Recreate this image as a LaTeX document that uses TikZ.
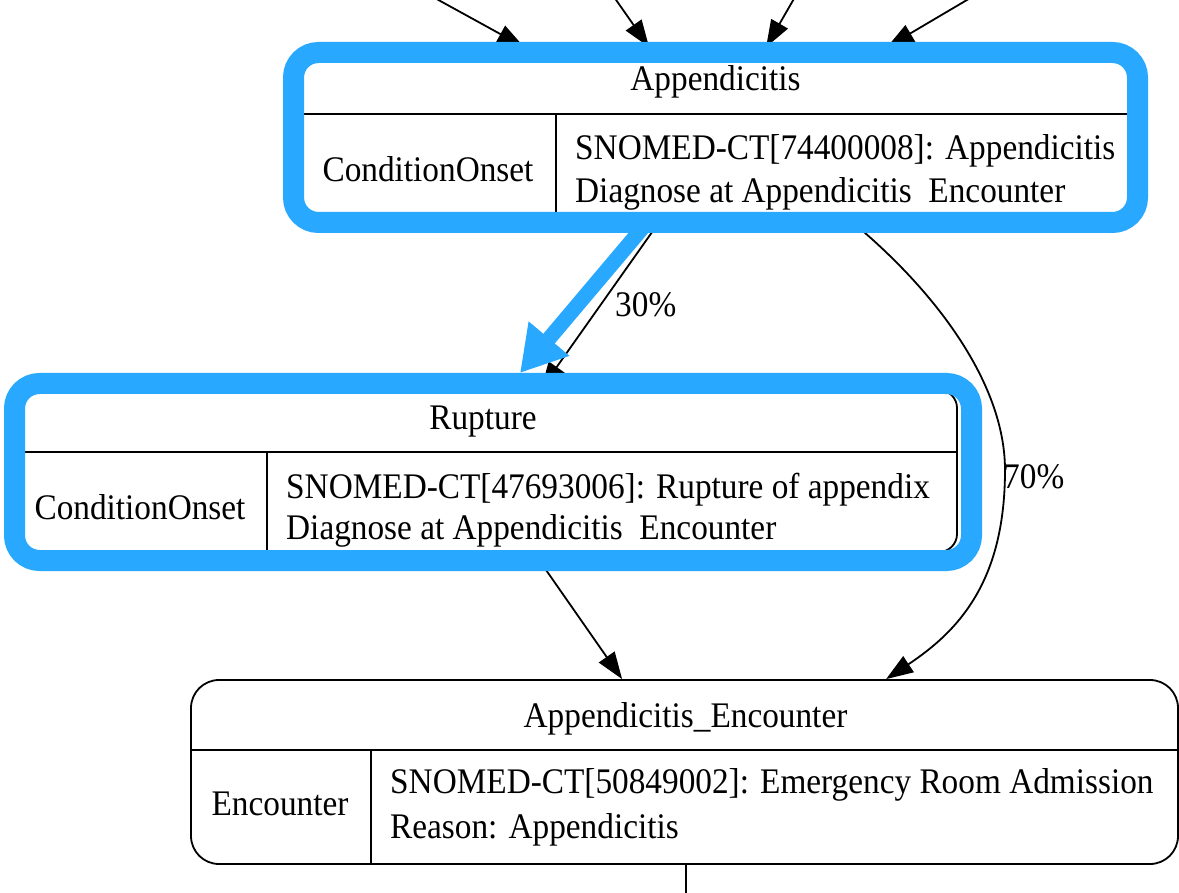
\documentclass[tikz,border=0pt]{standalone}
\usepackage{fontspec}
\setmainfont{Liberation Serif}[FakeStretch=0.925]
\usetikzlibrary{arrows.meta,calc}
\definecolor{hlblue}{RGB}{41,168,255}
\begin{document}
\begin{tikzpicture}[x=1pt,y=-1pt,
  rec/.style={draw=black, line width=1.8pt, rounded corners=18pt, inner sep=0pt},
  encrec/.style={draw=black, line width=1.8pt, rounded corners=28pt, inner sep=0pt},
  sep/.style={draw=black, line width=1.8pt},
  txt/.style={inner sep=0pt, anchor=base west, font=\fontsize{36}{40}\selectfont},
  ttl/.style={inner sep=0pt, anchor=base, font=\fontsize{36}{40}\selectfont},
  edge/.style={draw=black, line width=1.8pt, -{Triangle[length=27pt,width=19pt]}},
  plain/.style={draw=black, line width=1.8pt},
  hl/.style={draw=hlblue, line width=21pt, rounded corners=25pt},
  hlarrow/.style={draw=hlblue, line width=15pt, -{Triangle[length=45pt,width=50pt]}}
]
\useasboundingbox (0,0) rectangle (1179,893);
\fill[white] (0,0) rectangle (1179,893);

% ---------- Appendicitis node ----------
\node[rec, minimum width=831pt, minimum height=159pt] (app) at (715.5,137.5) {};
\draw[sep] (300,114) -- (1131,114);
\draw[sep] (556,114) -- (556,217);
\node[ttl] (appT) at (715.5,91) {Appendicitis};
\node[ttl] (appK) at (428,182) {ConditionOnset};
\node[txt] (appL1) at (575,160) {SNOMED-CT[74400008]: Appendicitis};
\node[txt] (appL2) at (575,203) {Diagnose at Appendicitis\ \ Encounter};

% ---------- Rupture node ----------
\node[rec, minimum width=937pt, minimum height=162pt] (rup) at (488.5,471) {};
\draw[sep] (20,452) -- (957,452);
\draw[sep] (267,452) -- (267,552);
\node[ttl] (rupT) at (483,430) {Rupture};
\node[ttl] (rupK) at (140,519) {ConditionOnset};
\node[txt] (rupL1) at (286,498) {SNOMED-CT[47693006]: Rupture of appendix};
\node[txt] (rupL2) at (286,539) {Diagnose at Appendicitis\ \ Encounter};

% ---------- Appendicitis_Encounter node ----------
\node[encrec, minimum width=987pt, minimum height=184pt] (enc) at (684.5,772) {};
\draw[sep] (191,750) -- (1178,750);
\draw[sep] (371,750) -- (371,864);
\node[ttl] (encT) at (685.5,727) {Appendicitis\_Encounter};
\node[ttl] (encK) at (280,815) {Encounter};
\node[txt] (encL1) at (390,793) {SNOMED-CT[50849002]: Emergency Room Admission};
\node[txt] (encL2) at (390,838) {Reason: Appendicitis};

% ---------- incoming edges at top ----------
\coordinate (in1) at (433,-3);
\coordinate (in2) at (614,-3);
\coordinate (in3) at (795,-3);
\coordinate (in4) at (972,-3);
\draw[edge] (in1) -- ($(app.north west)+(225,-10)$);
\draw[edge] (in2) -- ($(app.north west)+(350,-10)$);
\draw[edge] (in3) -- ($(app.north west)+(467,-10)$);
\draw[edge] (in4) -- ($(app.north west)+(588,-10)$);

% ---------- edges ----------
\draw[edge] ($(app.south west)+(363,0)$) -- ($(rup.north west)+(522,0)$);
\node[txt] (l30) at (615,317) {30\%};

\coordinate (m70) at (1005,470);
\draw[edge] ($(app.south west)+(548,0)$) .. controls (930,285) and (1005,380) .. (m70)
  .. controls (1005,580) and (960,630) .. ($(enc.north west)+(696,0)$);
\node[txt] (l70) at (1003,489) {70\%};

\draw[edge] ($(rup.south west)+(515,0)$) -- ($(enc.north west)+(432,0)$);

\coordinate (out1) at (686,900);
\draw[plain] (enc.south -| out1) -- (out1);

% ---------- blue highlights ----------
\draw[hl] (293.5,52.5) rectangle (1137.5,222.5);
\draw[hl] (14.5,383.5) rectangle (971.5,560.5);
\coordinate (hlA) at (645,225);
\coordinate (hlB) at (520,373);
\draw[hlarrow] (hlA) -- (hlB);
\end{tikzpicture}
\end{document}
